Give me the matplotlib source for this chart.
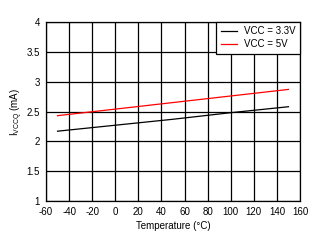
import matplotlib
matplotlib.use("Agg")
import matplotlib.pyplot as plt

plt.rcParams['font.family'] = ['Liberation Sans', 'DejaVu Sans']
plt.rcParams['mathtext.fontset'] = 'custom'
plt.rcParams['mathtext.rm'] = 'Liberation Sans'
plt.rcParams['axes.unicode_minus'] = False

temps = [-50, 0, 50, 100, 150]
vcc33 = [2.17, 2.27, 2.37, 2.48, 2.58]
vcc5 = [2.43, 2.54, 2.65, 2.76, 2.87]
xticks = [-60, -40, -20, 0, 20, 40, 60, 80, 100, 120, 140, 160]
yticks = [1, 1.5, 2, 2.5, 3, 3.5, 4]
ytick_labels = ['1', '1.5', '2', '2.5', '3', '3.5', '4']

fs = 7
fig = plt.figure(figsize=(3.22, 2.43), dpi=100)
ax = fig.add_axes([46/322, 1-201/243, 254/322, 179/243])
ax.plot(temps, vcc33, color='black', lw=0.9, label='VCC = 3.3V')
ax.plot(temps, vcc5, color='red', lw=0.9, label='VCC = 5V')
ax.set_xlim(-60, 160)
ax.set_ylim(1, 4)
ax.set_xticks(xticks)
ax.set_yticks(yticks)
ax.set_yticklabels(ytick_labels)
ax.grid(True, color='black', lw=0.9)
ax.tick_params(axis='y', length=0, labelsize=fs, pad=4.3)
ax.tick_params(axis='x', length=0, labelsize=fs, pad=4.5)
for s in ax.spines.values():
    s.set_linewidth(0.9)
ax.set_xlabel('Temperature (°C)', fontsize=fs, labelpad=3)
ax.set_ylabel(r'I$_{\mathrm{VCCQ}}$ (mA)', fontsize=fs, labelpad=1.2)
leg = ax.legend(loc='upper right', bbox_to_anchor=(1.0, 1.0), fontsize=fs,
                frameon=True, fancybox=False, borderaxespad=0,
                handlelength=1.7, handletextpad=0.7,
                labelspacing=0.3, borderpad=0.45)
leg.get_frame().set_edgecolor('black')
leg.get_frame().set_linewidth(0.9)
leg.get_frame().set_alpha(1)
fig.savefig('out.png', dpi=100)
